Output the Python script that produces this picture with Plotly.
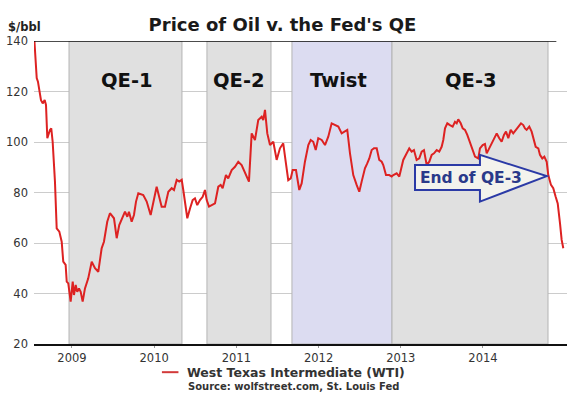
import plotly.graph_objects as go

# ---- data (decimal years, $/bbl) ----
years = [
    2008.541, 2008.571, 2008.586, 2008.623, 2008.644, 2008.668, 2008.684, 2008.700, 2008.732, 2008.748,
    2008.765, 2008.793, 2008.814, 2008.846, 2008.875, 2008.894, 2008.923, 2008.936, 2008.955, 2008.984,
    2009.009, 2009.024, 2009.045, 2009.064, 2009.085, 2009.106, 2009.130, 2009.158, 2009.198, 2009.240,
    2009.280, 2009.320, 2009.361, 2009.389, 2009.429, 2009.462, 2009.511, 2009.544, 2009.575, 2009.617,
    2009.645, 2009.673, 2009.693, 2009.726, 2009.754, 2009.779, 2009.807, 2009.867, 2009.909, 2009.957,
    2009.998, 2010.030, 2010.091, 2010.131, 2010.172, 2010.213, 2010.241, 2010.274, 2010.305, 2010.335,
    2010.354, 2010.403, 2010.436, 2010.468, 2010.496, 2010.524, 2010.557, 2010.590, 2010.618, 2010.639,
    2010.667, 2010.700, 2010.740, 2010.780, 2010.809, 2010.833, 2010.873, 2010.901, 2010.943, 2010.983,
    2011.023, 2011.064, 2011.105, 2011.153, 2011.186, 2011.226, 2011.266, 2011.308, 2011.327, 2011.348,
    2011.376, 2011.409, 2011.449, 2011.490, 2011.530, 2011.570, 2011.600, 2011.631, 2011.661, 2011.685,
    2011.725, 2011.765, 2011.794, 2011.834, 2011.875, 2011.904, 2011.935, 2011.965, 2011.996, 2012.038,
    2012.078, 2012.118, 2012.159, 2012.199, 2012.240, 2012.281, 2012.321, 2012.349, 2012.382, 2012.422,
    2012.463, 2012.495, 2012.524, 2012.564, 2012.592, 2012.617, 2012.646, 2012.674, 2012.707, 2012.738,
    2012.768, 2012.787, 2012.820, 2012.860, 2012.889, 2012.909, 2012.950, 2012.982, 2013.030, 2013.072,
    2013.103, 2013.132, 2013.160, 2013.193, 2013.225, 2013.254, 2013.282, 2013.315, 2013.347, 2013.376,
    2013.404, 2013.437, 2013.468, 2013.497, 2013.517, 2013.538, 2013.566, 2013.598, 2013.631, 2013.659,
    2013.680, 2013.699, 2013.729, 2013.753, 2013.781, 2013.809, 2013.842, 2013.875, 2013.903, 2013.943,
    2013.963, 2013.996, 2014.024, 2014.045, 2014.077, 2014.106, 2014.134, 2014.167, 2014.198, 2014.227,
    2014.255, 2014.280, 2014.308, 2014.337, 2014.368, 2014.401, 2014.429, 2014.462, 2014.490, 2014.511,
    2014.531, 2014.563, 2014.592, 2014.612, 2014.641, 2014.673, 2014.693, 2014.721, 2014.746, 2014.775,
    2014.794, 2014.827, 2014.855, 2014.884, 2014.909, 2014.937, 2014.957, 2014.977,
]
wti = [
    141.0, 125.3, 123.9, 116.6, 115.3, 116.6, 114.7, 101.5, 104.8, 105.4,
    100.1, 84.3, 65.8, 64.5, 60.5, 52.6, 51.3, 44.7, 44.0, 36.8,
    44.7, 39.4, 43.4, 40.7, 42.0, 40.7, 36.8, 42.0, 46.0, 52.6,
    50.0, 48.6, 57.9, 60.5, 68.4, 71.8, 69.8, 61.9, 67.1, 70.4,
    72.4, 70.4, 72.4, 68.4, 71.1, 76.4, 79.7, 79.0, 76.4, 71.1,
    78.3, 82.3, 74.4, 74.4, 80.3, 81.7, 81.0, 85.0, 84.3, 85.0,
    81.0, 69.8, 73.7, 77.0, 77.7, 75.0, 77.0, 78.3, 81.0, 77.0,
    74.4, 75.0, 75.7, 82.3, 83.0, 81.7, 86.9, 85.6, 88.9, 90.2,
    92.2, 90.9, 87.6, 84.3, 103.4, 100.8, 108.7, 110.0, 108.7, 112.7,
    103.4, 98.8, 100.1, 92.9, 97.5, 99.5, 92.2, 84.9, 85.6, 88.9,
    88.9, 81.0, 83.6, 92.2, 98.8, 100.8, 100.1, 96.8, 101.5, 100.8,
    98.8, 102.1, 107.4, 106.7, 106.1, 103.4, 104.1, 104.8, 95.5, 86.9,
    83.0, 80.3, 84.3, 89.6, 91.5, 93.5, 96.8, 97.5, 97.5, 92.9,
    92.2, 90.9, 86.9, 86.9, 86.3, 86.9, 87.6, 86.3, 92.9, 95.5,
    97.5, 96.2, 96.8, 92.9, 93.5, 96.2, 96.8, 90.9, 92.2, 94.9,
    95.5, 96.8, 96.2, 98.1, 100.8, 105.4, 107.4, 106.7, 106.1, 108.0,
    107.4, 109.0, 107.4, 105.4, 104.8, 102.8, 99.5, 96.8, 94.2, 93.5,
    97.5, 98.8, 99.2, 95.5, 97.5, 99.5, 100.8, 103.4, 101.5, 100.1,
    102.8, 104.1, 101.5, 104.8, 103.4, 104.8, 106.1, 107.4, 106.7, 105.4,
    104.8, 106.1, 104.1, 101.5, 98.1, 97.5, 94.9, 93.5, 94.2, 92.2,
    86.9, 83.0, 81.7, 78.3, 75.7, 67.8, 61.2, 57.9,
]

# QE programmes (decimal years)
program_names = ["QE-1", "QE-2", "Twist", "QE-3"]
program_start = [2008.964, 2010.642, 2011.676, 2012.893]
program_end = [2010.338, 2011.421, 2012.893, 2014.791]
program_label_x = [2009.669, 2011.032, 2012.242, 2013.851]
program_fill = ["#e0e0e0", "#e0e0e0", "#dcdcf1", "#e0e0e0"]

year_ticks = [2009, 2010, 2011, 2012, 2013, 2014]
year_labels = ["2009", "2010", "2011", "2012", "2013", "2014"]
price_ticks = [20, 40, 60, 80, 100, 120, 140]

series_name = "West Texas Intermediate (WTI)"
source_text = "Source: wolfstreet.com, St. Louis Fed"

FONT = "DejaVu Sans"
RED = "#dd2222"
BLUE = "#2b3aa6"

fig = go.Figure()

fig.add_trace(go.Scatter(
    x=years, y=wti, mode="lines", name=series_name, showlegend=False,
    line=dict(color=RED, width=2),
))

shapes = []
annotations = []
for name, s, e, lx, fc in zip(program_names, program_start, program_end, program_label_x, program_fill):
    shapes.append(dict(type="rect", xref="x", yref="y", x0=s, x1=e, y0=20, y1=140,
                       fillcolor=fc, line=dict(color="#b4b4b4", width=1), layer="between"))
    annotations.append(dict(x=lx, y=124.5, xref="x", yref="y", text="<b>" + name + "</b>",
                            showarrow=False, font=dict(family=FONT, size=19.5, color="#111111")))

# black top border at 140
shapes.append(dict(type="line", xref="paper", yref="y", x0=0, x1=0.98, y0=140, y1=140,
                   line=dict(color="#111111", width=1.5), layer="above"))

# "End of QE-3" arrow
ax0, ax1, ax2 = 2013.173, 2013.963, 2014.775
arrow_path = (f"M {ax0},90.9 L {ax1},90.9 L {ax1},94.9 L {ax2},86.5 "
              f"L {ax1},76.4 L {ax1},81.0 L {ax0},81.0 Z")
shapes.append(dict(type="path", xref="x", yref="y", path=arrow_path,
                   fillcolor="rgba(255,255,245,0.6)", line=dict(color=BLUE, width=2), layer="above"))
annotations.append(dict(x=2013.860, y=85.9, xref="x", yref="y", text="<b>End of QE-3</b>",
                        showarrow=False, font=dict(family=FONT, size=15.5, color="#2a3a8a")))

# y-axis unit
annotations.append(dict(x=-0.0525, y=1.046, xref="paper", yref="paper", xanchor="left", yanchor="middle",
                        text="<b>$/bbl</b>", showarrow=False,
                        font=dict(family=FONT, size=11.5, color="#222222")))

# legend (drawn by hand below the axis)
leg_y = -0.093
shapes.append(dict(type="line", xref="paper", yref="paper", x0=0.240, x1=0.271, y0=leg_y, y1=leg_y,
                   line=dict(color="#d23a3a", width=2)))
annotations.append(dict(x=0.283, y=leg_y, xref="paper", yref="paper", xanchor="left", yanchor="middle",
                        text="<b>" + series_name + "</b>", showarrow=False,
                        font=dict(family=FONT, size=12.5, color="#333333")))
annotations.append(dict(x=0.486, y=-0.139, xref="paper", yref="paper", xanchor="center", yanchor="middle",
                        text="<b>" + source_text + "</b>", showarrow=False,
                        font=dict(family=FONT, size=10, color="#333333")))

fig.update_layout(
    width=569, height=398,
    margin=dict(l=34, r=2, t=41, b=54, autoexpand=False),
    paper_bgcolor="white", plot_bgcolor="white",
    title=dict(text="<b>Price of Oil v. the Fed's QE</b>", x=0.4965, xanchor="center",
               y=0.937, yanchor="middle", yref="container",
               font=dict(family=FONT, size=18, color="#1a1a1a")),
    showlegend=False,
    shapes=shapes,
    annotations=annotations,
    xaxis=dict(range=[2008.538, 2015.022], tickvals=year_ticks, ticktext=year_labels, automargin=False,
               showgrid=False, zeroline=False, showline=True, linecolor="#111111", linewidth=1.5,
               ticks="outside", ticklen=2, tickcolor="#999999",
               tickfont=dict(family=FONT, size=11.5, color="#333333")),
    yaxis=dict(range=[20, 140], tickvals=price_ticks, showgrid=True, gridcolor="#cccccc", gridwidth=1,
               automargin=False, zeroline=False, showline=False, ticks="", ticklabelstandoff=5,
               tickfont=dict(family=FONT, size=11.5, color="#333333")),
)

fig.write_html("out.html", config={"displayModeBar": False},
               post_script="document.body.style.margin='0px';")
